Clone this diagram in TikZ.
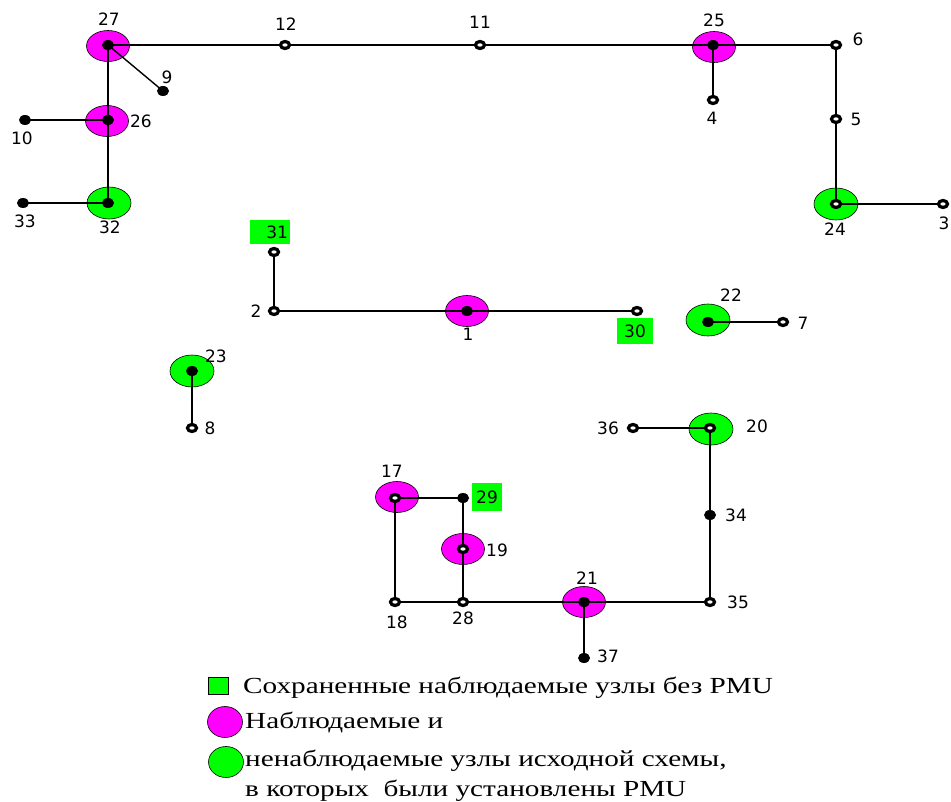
\documentclass[tikz,border=0pt]{standalone}
\usepackage{fontspec}
\setmainfont{Liberation Serif}
\newfontfamily\lblfont{DejaVu Sans}
\usetikzlibrary{shapes.geometric}
\definecolor{pmug}{RGB}{0,255,0}
\definecolor{pmum}{RGB}{255,0,255}
\tikzset{
  bigm/.style={ellipse, minimum width=43pt, minimum height=31pt, inner sep=0pt, fill=pmum, draw=black, line width=0.6pt},
  bigg/.style={ellipse, minimum width=44pt, minimum height=32pt, inner sep=0pt, fill=pmug, draw=black, line width=0.6pt},
  dotf/.style={ellipse, minimum width=12pt, minimum height=10pt, inner sep=0pt, fill=black},
  doto/.style={ellipse, minimum width=9pt, minimum height=7pt, inner sep=0pt, fill=white, draw=black, line width=3.2pt},
  lbl/.style={inner sep=0pt, font=\lblfont\fontsize{17}{17}\selectfont},
  glbl/.style={lbl, fill=pmug},
  wire/.style={line width=1.4pt, black},
  legtext/.style={inner sep=0pt, anchor=base west, font=\fontsize{23}{23}\selectfont}
}
\newcommand{\wideleg}[1]{\scalebox{1.27}[1]{#1}}
\begin{document}
\begin{tikzpicture}[x=1pt,y=-1pt]
\useasboundingbox (0,0) rectangle (951,802);
% positions
\coordinate (p1) at (467,311);
\coordinate (p2) at (274,311);
\coordinate (p3) at (943,204);
\coordinate (p4) at (713,100);
\coordinate (p5) at (836,119);
\coordinate (p6) at (836,45);
\coordinate (p7) at (783,322);
\coordinate (p8) at (192,428);
\coordinate (p9) at (163,91);
\coordinate (p10) at (25,120);
\coordinate (p11) at (480,45);
\coordinate (p12) at (285,45);
\coordinate (p17) at (395,498);
\coordinate (p18) at (395,602);
\coordinate (p19) at (463,549);
\coordinate (p20) at (710,428);
\coordinate (p21) at (584,602);
\coordinate (p22) at (708,322);
\coordinate (p23) at (192,371);
\coordinate (p24) at (836,204);
\coordinate (p25) at (713,45);
\coordinate (p26) at (108,120);
\coordinate (p27) at (108,45);
\coordinate (p28) at (463,602);
\coordinate (p29) at (463,498);
\coordinate (p30) at (637,311);
\coordinate (p31) at (274,252);
\coordinate (p32) at (108,203);
\coordinate (p33) at (23,203);
\coordinate (p34) at (710,515);
\coordinate (p35) at (710,602);
\coordinate (p36) at (633,428);
\coordinate (p37) at (584,658);
% PMU circles
\node[bigm] (c27) at (108,46) {};
\node[bigm] (c26) at (107,121) {};
\node[bigm] (c25) at (714,47) {};
\node[bigm] (c1) at (p1) {};
\node[bigm] (c17) at (397,497) {};
\node[bigm] (c19) at (p19) {};
\node[bigm] (c21) at (p21) {};
\node[bigg] (c32) at (109,203) {};
\node[bigg] (c24) at (p24) {};
\node[bigg] (c22) at (708,320) {};
\node[bigg] (c23) at (p23) {};
\node[bigg] (c20) at (711,429) {};
% lines
\draw[wire] (p27) -- (p12) -- (p11) -- (p25) -- (p6) -- (p5) -- (p24) -- (p3);
\draw[wire] (p25) -- (p4);
\draw[wire] (p27) -- (p9);
\draw[wire] (p27) -- (p26) -- (p32) -- (p33);
\draw[wire] (p26) -- (p10);
\draw[wire] (p31) -- (p2) -- (p1) -- (p30);
\draw[wire] (p22) -- (p7);
\draw[wire] (p23) -- (p8);
\draw[wire] (p36) -- (p20) -- (p34) -- (p35);
\draw[wire] (p17) -- (p29) -- (p19) -- (p28);
\draw[wire] (p17) -- (p18) -- (p28) -- (p21) -- (p35);
\draw[wire] (p21) -- (p37);
% bus dots
\foreach \n in {1,9,10,21,22,23,25,26,27,29,32,33,34,37}
  \node[dotf] (n\n) at (p\n) {};
\foreach \n in {2,3,4,5,6,7,8,11,12,17,18,19,20,24,28,30,31,35,36}
  \node[doto] (n\n) at (p\n) {};
% labels
\node[lbl] (l27) at (109,19) {27};
\node[lbl] (l12) at (286,24) {12};
\node[lbl] (l11) at (480,22) {11};
\node[lbl] (l25) at (714,20) {25};
\node[lbl] (l6) at (858,39) {6};
\node[lbl] (l4) at (712,118) {4};
\node[lbl] (l5) at (856,119) {5};
\node[lbl] (l24) at (835,229) {24};
\node[lbl] (l3) at (944,223) {3};
\node[lbl] (l9) at (167,77) {9};
\node[lbl] (l26) at (141,121) {26};
\node[lbl] (l10) at (22,138) {10};
\node[lbl] (l32) at (110,227) {32};
\node[lbl] (l33) at (25,221) {33};
\node[glbl, minimum width=40pt, minimum height=24pt, text width=36pt, align=right] (l31) at (270,232) {31};
\node[lbl] (l2) at (256,311) {2};
\node[lbl] (l1) at (468,334) {1};
\node[glbl, minimum width=36pt, minimum height=26pt] (l30) at (635,331) {30};
\node[lbl] (l22) at (731,295) {22};
\node[lbl] (l7) at (803,323) {7};
\node[lbl] (l23) at (216,356) {23};
\node[lbl] (l8) at (210,428) {8};
\node[lbl] (l36) at (608,428) {36};
\node[lbl] (l20) at (757,426) {20};
\node[lbl] (l17) at (392,471) {17};
\node[glbl, minimum width=30pt, minimum height=28pt] (l29) at (487,497) {29};
\node[lbl] (l19) at (497,550) {19};
\node[lbl] (l34) at (736,515) {34};
\node[lbl] (l18) at (397,622) {18};
\node[lbl] (l28) at (463,618) {28};
\node[lbl] (l21) at (587,578) {21};
\node[lbl] (l35) at (738,602) {35};
\node[lbl] (l37) at (608,656) {37};
% legend
\node[draw=black, line width=0.6pt, fill=pmug, minimum width=20pt, minimum height=17pt, inner sep=0pt] (kg) at (218,686) {};
\node[legtext] (t1) at (243,693) {\wideleg{Сохраненные наблюдаемые узлы без PMU}};
\node[ellipse, draw=black, line width=0.6pt, fill=pmum, minimum width=35pt, minimum height=31pt, inner sep=0pt] (km) at (225,722) {};
\node[legtext] (t2) at (245,728) {\wideleg{Наблюдаемые и}};
\node[ellipse, draw=black, line width=0.6pt, fill=pmug, minimum width=35pt, minimum height=31pt, inner sep=0pt] (kgc) at (226,762) {};
\node[legtext] (t3) at (245,766) {\wideleg{ненаблюдаемые узлы исходной схемы,}};
\node[legtext] (t4) at (245,796) {\wideleg{в которых\ \ были установлены PMU}};
\end{tikzpicture}
\end{document}
